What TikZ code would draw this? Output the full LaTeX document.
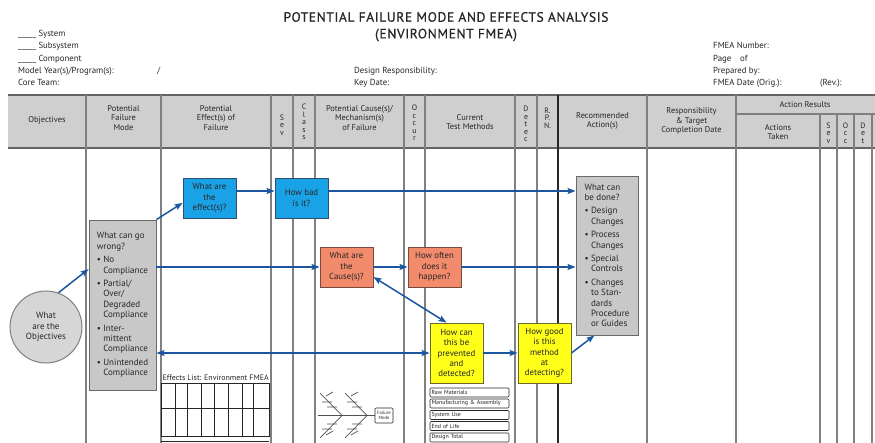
\documentclass[tikz,border=0pt]{standalone}
\usepackage{fontspec}
\setmainfont{PT Sans}
\usetikzlibrary{arrows.meta,calc}
\definecolor{hdrfill}{HTML}{CFCFCF}
\definecolor{hdrline}{HTML}{646464}
\definecolor{colgray}{HTML}{808080}
\definecolor{txt}{HTML}{262626}
\definecolor{boxblue}{HTML}{1AA2E6}
\definecolor{boxblueb}{HTML}{2E4E6E}
\definecolor{boxorange}{HTML}{F28B6C}
\definecolor{boxorangeb}{HTML}{7A4A3C}
\definecolor{boxyellow}{HTML}{FFFF1A}
\definecolor{boxyellowb}{HTML}{6A6A2A}
\definecolor{boxgray}{HTML}{C8C8C8}
\definecolor{boxgrayb}{HTML}{6A6A6A}
\definecolor{circfill}{HTML}{D6D6D6}
\definecolor{arrblue}{HTML}{1C56A0}
\tikzset{
  hdr/.style={inner sep=0pt, align=center, text=txt, font=\fontsize{8.4}{9.6}\selectfont},
  stack/.style={inner sep=0pt, align=center, text=txt, font=\fontsize{7.8}{7.6}\selectfont},
  info/.style={inner sep=0pt, anchor=base west, text=txt, font=\fontsize{8.8}{10}\selectfont},
  colline/.style={draw=colgray, line width=1.2pt},
  qbox/.style={draw=#1, line width=0.9pt, inner sep=0pt, align=center, text=txt,
     font=\fontsize{8.8}{10.3}\selectfont},
  listbox/.style={draw=boxgrayb, fill=boxgray, line width=0.9pt, inner sep=0pt, align=left,
     text=txt, font=\fontsize{9}{10.4}\selectfont},
  arr/.style={draw=arrblue, line width=1.5pt, -{Stealth[length=8pt,width=6pt,inset=1.5pt]}},
  darr/.style={draw=arrblue, line width=1.5pt, {Stealth[length=8pt,width=6pt,inset=1.5pt]}-{Stealth[length=8pt,width=6pt,inset=1.5pt]}},
  rowbox/.style={draw=txt, line width=0.6pt, rounded corners=1pt, minimum width=79pt,
     minimum height=9pt, text width=76pt, inner xsep=1.5pt, inner ysep=0pt, align=left,
     text=txt, font=\fontsize{5.9}{6}\selectfont},
  fish/.style={draw=txt!80, line width=0.7pt},
  ttl/.style={inner sep=0pt, text=txt, font=\fontsize{13.5}{15}\selectfont\addfontfeature{LetterSpace=4.5,FakeBold=0.6}}
}
\begin{document}
\begin{tikzpicture}[x=1pt,y=-1pt]
\useasboundingbox (0,0) rectangle (875,443);
\fill[white] (0,0) rectangle (875,443);

% ---------- title and form data ----------
\node[ttl] (t1) at (446,17) {POTENTIAL FAILURE MODE AND EFFECTS ANALYSIS};
\node[ttl] (t2) at (446,35) {(ENVIRONMENT FMEA)};

\node[info] (i1) at (18,37) {\_\_\_\_\_ System};
\node[info] (i2) at (18,49) {\_\_\_\_\_ Subsystem};
\node[info] (i3) at (18,62) {\_\_\_\_\_ Component};
\node[info] (i4) at (18,74) {Model Year(s)/Program(s):};
\node[info] (i5) at (157,74) {/};
\node[info] (i6) at (18,86) {Core Team:};
\node[info] (i7) at (354,74) {Design Responsibility:};
\node[info] (i8) at (354,86) {Key Date:};
\node[info] (i9) at (713,49) {FMEA Number:};
\node[info] (i10) at (713,62) {Page\quad of};
\node[info] (i11) at (713,74) {Prepared by:};
\node[info] (i12) at (713,86) {FMEA Date (Orig.):};
\node[info] (i13) at (820,86) {(Rev.):};

% ---------- header band ----------
\fill[hdrfill] (8,95) rectangle (875,148);
\draw[hdrline, line width=1.4pt] (8,95) -- (875,95);
\draw[hdrline, line width=1.6pt] (8,148) -- (875,148);
\foreach \x in {86,161,271,293,315,404,425,515,537,647,736}
  \draw[colline] (\x,95) -- (\x,443);
\draw[black!85, line width=2.2pt] (558,95) -- (558,443);
\draw[colline] (736,114) -- (875,114);
\foreach \x in {820,837,854,872}
  \draw[colline] (\x,114) -- (\x,443);

\node[hdr] (h1) at (47,120) {Objectives};
\node[hdr] (h2) at (123.5,118) {Potential\\Failure\\Mode};
\node[hdr] (h3) at (216,118) {Potential\\Effect(s) of\\Failure};
\node[stack] (h4) at (282,125) {S\\e\\v};
\node[stack] (h5) at (304,122) {C\\l\\a\\s\\s};
\node[hdr] (h6) at (359.5,118) {Potential Cause(s)/\\Mechanism(s)\\of Failure};
\node[stack] (h7) at (414.5,123) {O\\c\\c\\u\\r};
\node[hdr] (h8) at (470,122) {Current\\Test Methods};
\node[stack] (h9) at (526,124) {D\\e\\t\\e\\c};
\node[stack] (h10) at (547.5,118) {R.\\P.\\N.};
\node[hdr] (h11) at (602.5,121) {Recommended\\Action(s)};
\node[hdr] (h12) at (691.5,121) {Responsibility\\\& Target\\Completion Date};
\node[hdr] (h13) at (805,105) {Action Results};
\node[hdr] (h14) at (778,132) {Actions\\Taken};
\node[stack] (h15) at (828.5,133) {S\\e\\v};
\node[stack] (h16) at (845.5,133) {O\\c\\c};
\node[stack] (h17) at (863,133) {D\\e\\t};

% ---------- question boxes ----------
\node[circle, draw=colgray, fill=circfill, line width=1pt, minimum size=72pt, inner sep=0pt,
      align=center, text=txt, font=\fontsize{9}{10.5}\selectfont] (obj) at (46,327) {What\\are the\\Objectives};

\node[listbox, minimum width=67pt, minimum height=170pt] (fail) at (122.5,305) {%
What can go\\wrong?\\[3pt]
\textbullet\ No\\
\phantom{\textbullet\ }Compliance\\[3pt]
\textbullet\ Partial/\\
\phantom{\textbullet\ }Over/\\
\phantom{\textbullet\ }Degraded\\
\phantom{\textbullet\ }Compliance\\[3pt]
\textbullet\ Inter-\\
\phantom{\textbullet\ }mittent\\
\phantom{\textbullet\ }Compliance\\[3pt]
\textbullet\ Unintended\\
\phantom{\textbullet\ }Compliance};

\node[listbox, minimum width=62pt, minimum height=159pt] (done) at (607,255.5) {%
What can\\be done?\\[3pt]
\textbullet\ Design\\
\phantom{\textbullet\ }Changes\\[3pt]
\textbullet\ Process\\
\phantom{\textbullet\ }Changes\\[3pt]
\textbullet\ Special\\
\phantom{\textbullet\ }Controls\\[3pt]
\textbullet\ Changes\\
\phantom{\textbullet\ }to Stan-\\
\phantom{\textbullet\ }dards\\
\phantom{\textbullet\ }Procedure\\
\phantom{\textbullet\ }or Guides};

\node[qbox=boxblueb, fill=boxblue, minimum width=53pt, minimum height=40pt] (eff) at (209.5,198) {What are\\the\\effect(s)?};
\node[qbox=boxblueb, fill=boxblue, minimum width=53pt, minimum height=40pt] (bad) at (301.5,198) {How bad\\is it?};
\node[qbox=boxorangeb, fill=boxorange, minimum width=53pt, minimum height=40pt] (cause) at (346.5,267) {What are\\the\\Cause(s)?};
\node[qbox=boxorangeb, fill=boxorange, minimum width=53pt, minimum height=40pt] (often) at (434.5,267) {How often\\does it\\happen?};
\node[qbox=boxyellowb, fill=boxyellow, minimum width=53pt, minimum height=60pt] (prev) at (456.5,353) {How can\\this be\\prevented\\and\\detected?};
\node[qbox=boxyellowb, fill=boxyellow, minimum width=53pt, minimum height=60pt] (good) at (544.5,353) {How good\\is this\\method\\at\\detecting?};

% ---------- connectors ----------
\draw[arr] (obj.70) -- ($(fail.north west)!0.29!(fail.south west)$);
\draw[arr] (fail.north east) -- ($(eff.north west)!0.62!(eff.south west)$);
\coordinate (e1) at ([yshift=7pt]eff.east);
\draw[arr] (e1) -- (e1 -| bad.west);
\coordinate (b1) at ([yshift=7pt]bad.east);
\draw[arr] (b1) -- (b1 -| done.west);
\draw[arr] (cause.west -| fail.east) -- (cause.west);
\draw[arr] (cause.east) -- (often.west);
\draw[arr] (often.east) -- (often.east -| done.west);
\draw[darr] ([yshift=-10pt]cause.east) -- ([xshift=-10pt]prev.north);
\draw[darr] (prev.west -| fail.east) -- (prev.west);
\draw[arr] (prev.east) -- (good.west);
\draw[arr] (good.east) -- ($(done.south west)!0.3!(done.south east)$);

% ---------- effects list table ----------
\node[inner sep=0pt, anchor=west, text=txt, font=\fontsize{7.9}{8}\selectfont] (el) at (162.5,378) {Effects List: Environment FMEA};
\draw[txt, line width=0.6pt] (161,383) rectangle (269,436);
\draw[txt, line width=0.6pt] (161,408) -- (269,408);
\draw[txt, line width=0.6pt] (161,441) -- (269,441);
\foreach \x in {175,187,201,214,228,242,253}
  \draw[txt, line width=0.6pt] (\x,383) -- (\x,436);

% ---------- fishbone ----------
\node[draw=txt, line width=0.6pt, rounded corners=1pt, minimum width=18pt, minimum height=15pt,
      inner sep=0pt, align=center, text=txt, font=\fontsize{4.6}{5}\selectfont] (fm) at (384,415.5) {Failure\\Mode};
\coordinate (sp) at (318,415.5);
\draw[fish] (sp) -- (fm.west);
\draw[fish] (320,393) -- (342,415.5) -- (320,438);
\draw[fish] (345,393) -- (367,415.5) -- (345,438);
\draw[fish] (322,402) -- (332,402) (326,396) -- (333,392) (327,407) -- (337,407);
\draw[fish] (347,402) -- (357,402) (351,396) -- (358,392) (352,407) -- (362,407);
\draw[fish] (322,429) -- (332,429) (326,435) -- (333,431) (327,424) -- (337,424);
\draw[fish] (347,429) -- (357,429) (351,435) -- (358,431) (352,424) -- (362,424);

% ---------- test method rows ----------
\node[rowbox] (r1) at (469.5,392.5) {Raw Materials};
\node[rowbox] (r2) at (469.5,403.5) {Manufacturing \& Assembly};
\node[rowbox] (r3) at (469.5,415) {System Use};
\node[rowbox] (r4) at (469.5,426) {End of Life};
\node[rowbox] (r5) at (469.5,437.5) {Design Total};
\end{tikzpicture}
\end{document}
